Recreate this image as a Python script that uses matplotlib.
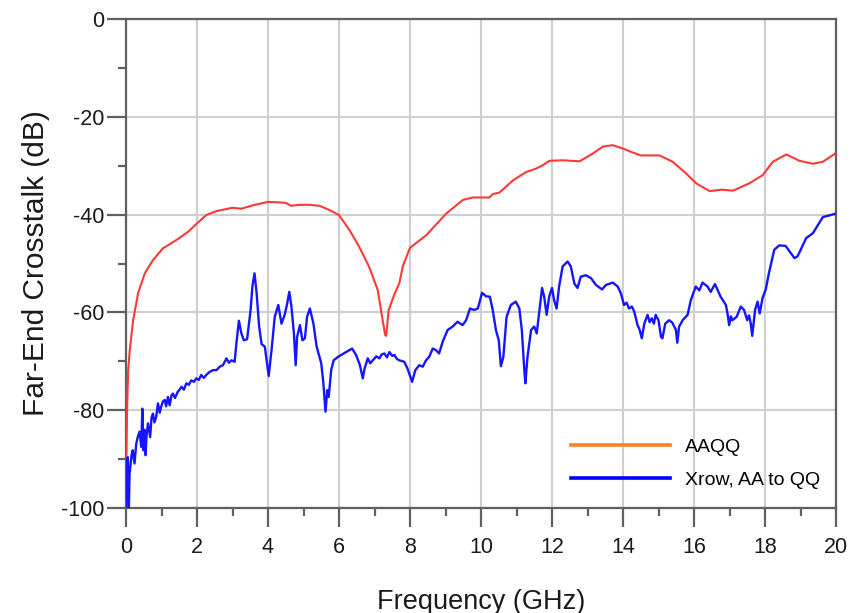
import matplotlib
matplotlib.use("Agg")
import matplotlib.pyplot as plt
from matplotlib.lines import Line2D
from matplotlib.ticker import MultipleLocator

plt.rcParams['font.family'] = ['Liberation Sans', 'DejaVu Sans']
plt.rcParams['axes.unicode_minus'] = False

# AAQQ (red) curve
aaqq_f = [0.0, 0.01, 0.03, 0.06, 0.107, 0.2, 0.34, 0.53, 0.76, 1.04, 1.2, 1.42, 1.75, 2.0, 2.26,
          2.54, 3.0, 3.25, 3.57, 4.0, 4.32, 4.5, 4.65, 4.89, 5.17, 5.45, 5.74, 6.0, 6.3,
          6.57, 6.85, 7.09, 7.23, 7.3, 7.33, 7.4, 7.55, 7.7, 7.8, 8.0, 8.46, 9.02, 9.49,
          9.77, 10.24, 10.33, 10.52, 10.9, 11.27, 11.55, 11.74, 11.93, 12.3, 12.78, 13.15,
          13.43, 13.71, 14.0, 14.2, 14.5, 15.03, 15.4, 15.78, 16.06, 16.44, 16.77, 17.1,
          17.56, 17.94, 18.22, 18.6, 18.97, 19.35, 19.63, 20.0]
aaqq_db = [-95.0, -90.0, -80.0, -72.0, -67.7, -61.6, -56.1, -52.0, -49.3, -46.9, -46.2, -45.2, -43.5,
           -41.8, -40.1, -39.3, -38.6, -38.8, -38.1, -37.4, -37.5, -37.6, -38.2, -38.0, -38.0,
           -38.2, -39.1, -40.1, -43.2, -46.6, -50.7, -55.4, -61.6, -64.6, -64.8, -59.5, -56.5,
           -54.0, -50.5, -46.8, -44.2, -39.8, -37.0, -36.5, -36.5, -35.8, -35.5, -33.0, -31.3,
           -30.6, -29.9, -29.0, -28.9, -29.1, -27.5, -26.1, -25.8, -26.5, -27.1, -27.9, -27.9,
           -29.2, -31.6, -33.6, -35.2, -34.9, -35.1, -33.6, -31.9, -29.2, -27.7, -29.0, -29.6,
           -29.2, -27.4]

# Xrow, AA to QQ (blue) curve
xrow_f = [0.0, 0.02, 0.05, 0.08, 0.1, 0.13, 0.16, 0.19, 0.24, 0.29, 0.33, 0.38, 0.43, 0.46,
          0.49, 0.52, 0.55, 0.58, 0.62, 0.68, 0.72, 0.76, 0.8, 0.85, 0.9, 0.95, 0.99, 1.04,
          1.09, 1.13, 1.18, 1.23, 1.28, 1.32, 1.38, 1.46, 1.51, 1.56, 1.63, 1.7, 1.77, 1.84,
          1.91, 1.98, 2.05, 2.12, 2.19, 2.26, 2.35, 2.45, 2.55, 2.64, 2.73, 2.83, 2.9, 2.97,
          3.06, 3.11, 3.18, 3.25, 3.32, 3.41, 3.51, 3.56, 3.62, 3.68, 3.75, 3.82, 3.91, 3.96,
          4.02, 4.1, 4.19, 4.29, 4.38, 4.47, 4.54, 4.6, 4.66, 4.73, 4.78, 4.82, 4.9, 4.97,
          5.04, 5.1, 5.18, 5.28, 5.37, 5.45, 5.5, 5.56, 5.62, 5.67, 5.71, 5.78, 5.85, 5.97,
          6.06, 6.2, 6.37, 6.48, 6.59, 6.67, 6.72, 6.81, 6.88, 6.95, 7.05, 7.14, 7.2, 7.28,
          7.35, 7.42, 7.5, 7.56, 7.63, 7.7, 7.84, 7.93, 8.06, 8.15, 8.26, 8.36, 8.45, 8.54,
          8.64, 8.73, 8.82, 8.92, 9.06, 9.2, 9.34, 9.48, 9.58, 9.69, 9.81, 9.91, 10.03,
          10.14, 10.25, 10.33, 10.42, 10.5, 10.56, 10.63, 10.72, 10.84, 10.98, 11.08, 11.15,
          11.22, 11.25, 11.31, 11.41, 11.5, 11.57, 11.64, 11.72, 11.78, 11.85, 11.92, 12.0,
          12.06, 12.13, 12.2, 12.3, 12.44, 12.53, 12.63, 12.72, 12.81, 12.95, 13.1, 13.24,
          13.41, 13.52, 13.71, 13.85, 13.94, 14.03, 14.1, 14.17, 14.25, 14.32, 14.41, 14.47,
          14.53, 14.6, 14.69, 14.75, 14.81, 14.87, 14.92, 15.0, 15.07, 15.11, 15.19, 15.3,
          15.39, 15.49, 15.53, 15.58, 15.68, 15.82, 15.91, 16.05, 16.15, 16.24, 16.38, 16.47,
          16.59, 16.75, 16.9, 16.95, 16.99, 17.04, 17.08, 17.2, 17.32, 17.41, 17.5, 17.55,
          17.6, 17.64, 17.72, 17.79, 17.85, 17.93, 18.02, 18.11, 18.26, 18.4, 18.58, 18.72,
          18.83, 18.92, 19.16, 19.35, 19.63, 20.0]
xrow_db = [-99.8, -92.5, -89.6, -100.0, -93.0, -90.9, -89.0, -88.2, -90.9, -86.8, -85.5, -84.4,
           -87.5, -79.7, -88.2, -84.0, -89.2, -85.0, -82.7, -85.5, -81.5, -80.7, -82.5, -81.4,
           -78.6, -80.5, -79.3, -78.2, -77.9, -79.2, -77.3, -79.0, -77.0, -76.6, -77.5, -76.2,
           -75.8, -75.2, -75.8, -74.5, -74.8, -73.9, -74.2, -73.5, -73.8, -72.8, -73.4, -72.8,
           -72.2, -71.8, -71.8, -71.1, -70.8, -69.4, -70.3, -69.8, -70.1, -66.3, -61.7, -64.3,
           -65.7, -65.5, -59.5, -54.7, -52.0, -56.1, -62.9, -66.5, -67.0, -69.8, -73.0, -67.7,
           -60.9, -58.5, -62.3, -60.5, -58.2, -55.8, -58.8, -64.3, -70.8, -65.0, -62.6, -65.7,
           -65.3, -60.9, -59.2, -62.3, -67.0, -69.1, -70.4, -74.5, -80.3, -75.9, -77.3, -71.8,
           -69.8, -69.1, -68.7, -68.1, -67.4, -68.7, -70.8, -73.5, -71.5, -69.4, -70.4, -69.8,
           -69.0, -69.4, -68.6, -68.4, -69.2, -68.1, -68.9, -68.7, -69.5, -69.8, -70.1, -71.5,
           -74.2, -71.8, -70.8, -71.1, -69.8, -69.1, -67.4, -67.7, -68.4, -66.0, -63.6, -62.9,
           -61.9, -62.6, -61.6, -59.2, -59.5, -59.2, -56.0, -56.7, -56.8, -59.5, -63.6, -65.7,
           -71.0, -69.1, -60.9, -58.5, -57.8, -59.2, -63.6, -71.8, -74.5, -69.1, -63.6, -62.9,
           -64.3, -59.9, -55.0, -56.8, -60.5, -56.8, -55.0, -57.5, -59.2, -54.7, -50.6, -49.6,
           -50.6, -54.1, -55.0, -52.7, -52.4, -53.0, -54.4, -55.3, -54.4, -53.9, -54.7, -56.1,
           -58.5, -58.0, -59.2, -58.8, -59.9, -62.6, -63.6, -65.3, -62.3, -60.5, -62.0, -61.2,
           -62.3, -60.5, -61.6, -65.0, -65.3, -62.3, -61.6, -62.1, -63.6, -66.2, -62.9, -61.6,
           -60.5, -57.5, -54.7, -55.5, -53.9, -54.7, -55.8, -54.2, -56.8, -58.5, -60.5, -62.6,
           -60.8, -61.6, -60.9, -58.8, -59.5, -61.6, -60.6, -62.3, -64.8, -59.5, -57.8, -60.2,
           -57.1, -55.3, -52.0, -47.2, -46.3, -46.4, -47.8, -48.9, -48.5, -44.8, -43.8, -40.5,
           -39.8]

series_labels = ["AAQQ", "Xrow, AA to QQ"]

fig = plt.figure(figsize=(8.52, 6.13), dpi=100)
ax = fig.add_axes([126 / 852, 1 - 508 / 613, 710 / 852, 489 / 613])

ax.plot(aaqq_f, aaqq_db, color='#FF3838', lw=1.5, zorder=3)
ax.plot(xrow_f, xrow_db, color='#1515FF', lw=1.7, zorder=3)

ax.set_xlim(0, 20)
ax.set_ylim(-100, 0)
ax.xaxis.set_major_locator(MultipleLocator(2))
ax.xaxis.set_minor_locator(MultipleLocator(1))
ax.yaxis.set_major_locator(MultipleLocator(20))
ax.yaxis.set_minor_locator(MultipleLocator(10))
ax.grid(True, which='major', color='#cfcfcf', lw=1.5, zorder=0)
ax.set_axisbelow(True)

for side in ['left', 'bottom', 'top', 'right']:
    ax.spines[side].set_color('#606060')
    ax.spines[side].set_linewidth(1.6)

ax.tick_params(which='major', direction='out', length=14, width=1.6, color='#606060',
               labelsize=15.5, labelcolor='#1a1a1a')
ax.tick_params(which='minor', direction='out', length=6, width=1.6, color='#606060')
ax.tick_params(axis='y', which='major', pad=1.5)
ax.tick_params(axis='x', which='major', pad=7)

ax.set_xlabel("Frequency (GHz)", fontsize=19.5, color='#1a1a1a', labelpad=22)
ax.set_ylabel("Far-End Crosstalk (dB)", fontsize=21.5, color='#1a1a1a', labelpad=8)

handles = [Line2D([], [], color='#FF7F27', lw=2.6),
           Line2D([], [], color='#0000FF', lw=2.6)]
ax.legend(handles, series_labels, loc='upper left', bbox_to_anchor=(0.616, 0.158),
          frameon=False, fontsize=14, handlelength=5.1, handletextpad=0.75,
          labelspacing=0.8, borderaxespad=0)

fig.savefig("out.png", dpi=100)
